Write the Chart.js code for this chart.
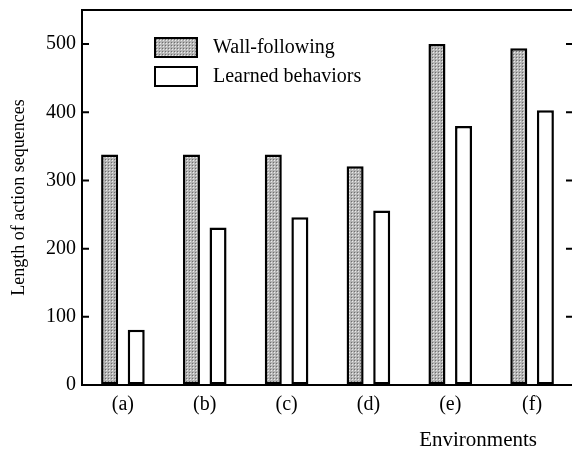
<!DOCTYPE html>
<html>
<head>
<meta charset="utf-8">
<script src="https://cdn.jsdelivr.net/npm/chart.js@4.4.0/dist/chart.umd.min.js"></script>
<style>
  html, body { margin: 0; padding: 0; background: #fff; overflow: hidden; }
</style>
</head>
<body>
<canvas id="barChart" width="576" height="449"></canvas>
<script>
// data
const environments = ["(a)", "(b)", "(c)", "(d)", "(e)", "(f)"];
const wallFollowing = [338, 338, 338, 321, 500, 494];
const learnedBehaviors = [81, 231, 246, 256, 380, 403];
const yTicks = [0, 100, 200, 300, 400, 500];
const seriesNames = ["Wall-following", "Learned behaviors"];

const serif = "'Liberation Serif', 'Times New Roman', serif";

// dotted grey fill like the original
function stipple() {
  const c = document.createElement("canvas");
  c.width = 3; c.height = 3;
  const g = c.getContext("2d");
  g.fillStyle = "#b4b4b4"; g.fillRect(0, 0, 3, 3);
  g.fillStyle = "#eaeaea"; g.fillRect(1, 1, 1, 1);
  g.fillStyle = "#6e6e6e"; g.fillRect(0, 0, 1, 1);
  return g.createPattern(c, "repeat");
}

const frame = {
  id: "frame",
  afterDraw(chart) {
    const ctx = chart.ctx;
    const a = chart.chartArea;
    const y = chart.scales.y;
    ctx.save();
    ctx.strokeStyle = "#000";
    ctx.lineWidth = 2;
    // top + right border
    ctx.beginPath();
    ctx.moveTo(a.left, a.top);
    ctx.lineTo(a.right, a.top);
    ctx.lineTo(a.right, a.bottom);
    ctx.stroke();
    // inward ticks
    ctx.beginPath();
    yTicks.forEach(v => {
      if (v === 0) return;
      const py = y.getPixelForValue(v);
      ctx.moveTo(a.left, py); ctx.lineTo(a.left + 7, py);
      ctx.moveTo(a.right, py); ctx.lineTo(a.right - 7, py);
    });
    ctx.stroke();

    // legend inside the plot
    ctx.font = "20px " + serif;
    ctx.textBaseline = "middle";
    chart.data.datasets.forEach((ds, i) => {
      const bx = a.left + 73, by = 38 + i * 29;
      ctx.fillStyle = ds.backgroundColor;
      ctx.fillRect(bx, by, 42, 19);
      ctx.strokeRect(bx, by, 42, 19);
      ctx.fillStyle = "#000";
      ctx.fillText(ds.label, bx + 58, by + 10);
    });

    // x axis title, right side
    ctx.textAlign = "right";
    ctx.textBaseline = "alphabetic";
    ctx.font = "21px " + serif;
    ctx.fillText("Environments", 537, 446);
    ctx.restore();
  }
};

new Chart(document.getElementById("barChart"), {
  type: "bar",
  data: {
    labels: environments,
    datasets: [
      {
        label: seriesNames[0],
        data: wallFollowing,
        backgroundColor: stipple(),
        borderColor: "#000",
        borderWidth: 2.5,
        borderSkipped: false
      },
      {
        label: seriesNames[1],
        data: learnedBehaviors,
        backgroundColor: "#fff",
        borderColor: "#000",
        borderWidth: 2.5,
        borderSkipped: false
      }
    ]
  },
  options: {
    responsive: false,
    devicePixelRatio: 1,
    animation: false,
    categoryPercentage: 0.65,
    barPercentage: 0.64,
    layout: { padding: { top: 10, right: 3, left: 0, bottom: 0 } },
    plugins: {
      legend: { display: false },
      tooltip: { enabled: false }
    },
    scales: {
      x: {
        grid: { drawOnChartArea: false, drawTicks: false },
        border: { color: "#000", width: 2 },
        ticks: { color: "#000", padding: 8, font: { family: serif, size: 20 } },
        afterFit: s => { s.height = 64; s.paddingLeft = 0; s.paddingRight = 0; }
      },
      y: {
        min: 0,
        max: 550,
        grid: { drawOnChartArea: false, drawTicks: false },
        border: { color: "#000", width: 2 },
        ticks: { color: "#000", padding: 6, font: { family: serif, size: 20 } },
        afterBuildTicks: s => { s.ticks = yTicks.map(v => ({ value: v })); },
        afterFit: s => { s.width = 82; s.paddingTop = 0; s.paddingBottom = 0; },
        title: {
          display: true,
          text: "Length of action sequences",
          color: "#000",
          font: { family: serif, size: 18 },
          padding: { top: 8, bottom: 0 }
        }
      }
    }
  },
  plugins: [frame]
});
</script>
</body>
</html>
